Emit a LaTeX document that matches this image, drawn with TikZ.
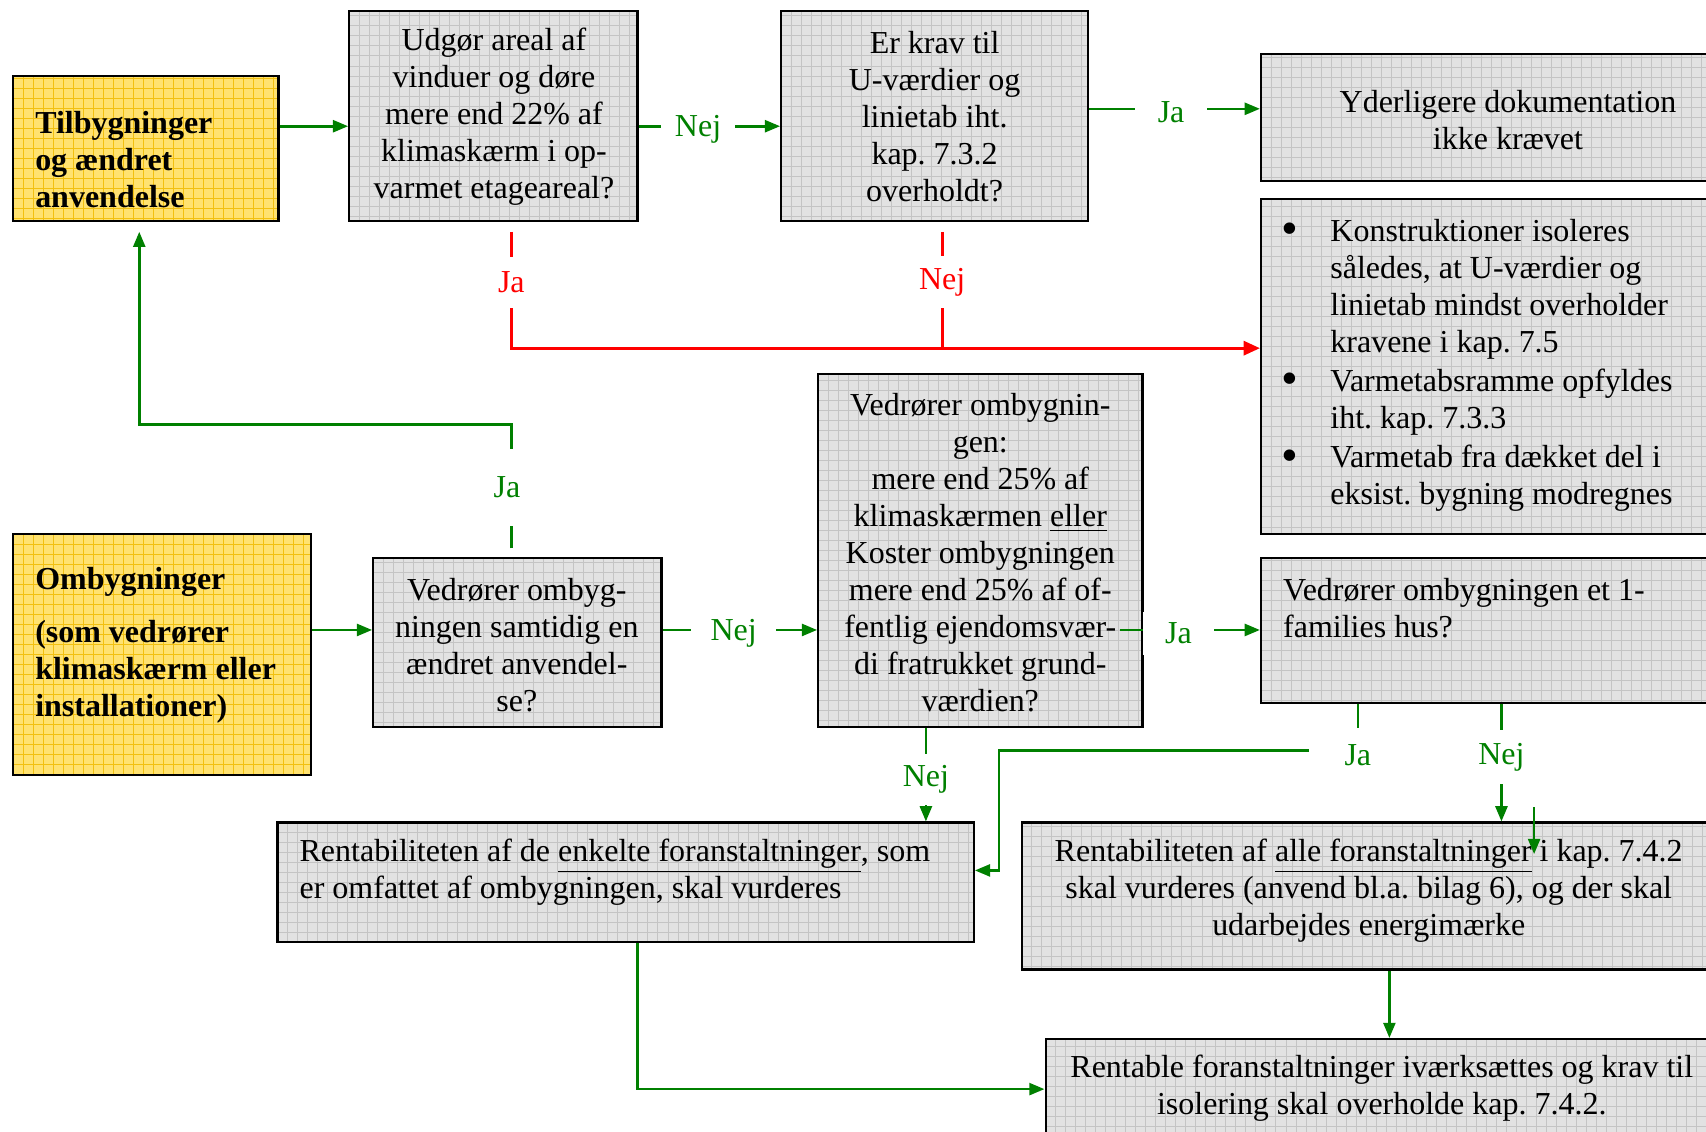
\documentclass[tikz,border=0pt]{standalone}
\usepackage{fontspec}
\setmainfont{Liberation Serif}
\usetikzlibrary{arrows.meta,calc,fit}
\definecolor{jagreen}{HTML}{008000}
\definecolor{nejred}{HTML}{FF0000}
\definecolor{boxgrey}{HTML}{E2E2E2}
\definecolor{gridgrey}{HTML}{C4C4C4}
\definecolor{boxyellow}{HTML}{FFE270}
\definecolor{gridyellow}{HTML}{F2C010}
\newcommand{\bodyfont}{\fontsize{14.7}{17}\selectfont}
\newcommand{\bigbullet}{\raisebox{-1.6pt}{\fontsize{22}{17}\selectfont\textbullet}}
\tikzset{
  >={Triangle[length=7pt,width=5.5pt]}, font=\bodyfont,
  gridbox/.style 2 args={draw=black, line width=1pt, inner sep=0pt, fill=#1,
                path picture={\draw[#2, line width=0.3pt, step=4.6pt] (path picture bounding box.south west) grid (path picture bounding box.north east);}},
  box/.style={gridbox={boxgrey}{gridgrey}},
  startbox/.style={gridbox={boxyellow}{gridyellow}},
  txt/.style={inner sep=0pt, align=center},
  ltxt/.style={inner sep=0pt, align=left, anchor=west},
  headtxt/.style={ltxt, font=\bodyfont\bfseries},
  flow/.style={->, draw=jagreen, line width=1.2pt},
  redflow/.style={-{Triangle[length=7.5pt,width=6.5pt]}, draw=nejred, line width=1.3pt},
  lbl/.style={text=jagreen, fill=white, inner xsep=6pt, inner ysep=5pt},
  redlbl/.style={lbl, text=nejred},
}
\frenchspacing

\begin{document}
\begin{tikzpicture}[x=0.5pt, y=-0.5pt]
  \clip (0,0) rectangle (1568,1040);
  % boxes
  \node[startbox, fit={(12,70) (256,203)}] (A) {};
  \node[headtxt] (At) at (32,147) {Tilbygninger\\og ændret\\anvendelse};
  \node[box, fit={(321,10) (586,203)}] (B) {};
  \node[txt] (Bt) at (454,107) {Udgør areal af\\vinduer og døre\\mere end 22\% af\\klimaskærm i op-\\varmet etageareal?};
  \node[box, fit={(718,10) (1000,203)}] (C) {};
  \node[txt] (Ct) at (859,107) {Er krav til\\U-værdier og\\linietab iht.\\kap. 7.3.2\\overholdt?};
  \node[box, fit={(1159,50) (1580,166)}] (D) {};
  \node[txt] (Dt) at (1386,110) {Yderligere dokumentation\\ikke krævet};
  \node[box, fit={(1159,183) (1580,491)}] (E) {};
  \node[inner sep=0pt, anchor=west] (Et) at (1177,336) {\begin{tabular}{@{}l@{\hspace{15pt}}l@{}}
    \bigbullet & Konstruktioner isoleres\\
               & således, at U-værdier og\\
               & linietab mindst overholder\\
               & kravene i kap. 7.5\\[1pt]
    \bigbullet & Varmetabsramme opfyldes\\
               & iht. kap. 7.3.3\\[1pt]
    \bigbullet & Varmetab fra dækket del i\\
               & eksist. bygning modregnes
  \end{tabular}};
  \node[startbox, fit={(12,491) (286,712)}] (F) {};
  \node[headtxt] (Ft) at (32,593) {Ombygninger\\[7pt](som vedrører\\klimaskærm eller\\installationer)};
  \node[box, fit={(343,513) (608,668)}] (G) {};
  \node[txt] (Gt) at (475,593) {Vedrører ombyg-\\ningen samtidig en\\ændret anvendel-\\se?};
  \node[box, fit={(752,344) (1050,668)}] (H) {};
  \node[txt] (Ht) at (901,508) {Vedrører ombygnin-\\gen:\\mere end 25\% af\\klimaskærmen \underline{eller}\\Koster ombygningen\\mere end 25\% af of-\\fentlig ejendomsvær-\\di fratrukket grund-\\værdien?};
  \node[box, fit={(1159,513) (1580,646)}] (I) {};
  \node[ltxt] (It) at (1179,559) {Vedrører ombygningen et 1-\\families hus?};
  \node[box, fit={(255,756) (895,866)}] (J) {};
  \node[ltxt] (Jt) at (275,802) {Rentabiliteten af de \underline{enkelte foranstaltninger}, som\\er omfattet af ombygningen, skal vurderes};
  \node[box, fit={(939,756) (1580,891)}] (K) {};
  \node[txt] (Kt) at (1258,819) {Rentabiliteten af \underline{alle foranstaltninger} i kap. 7.4.2\\skal vurderes (anvend bl.a. bilag 6), og der skal\\udarbejdes energimærke};
  \node[box, fit={(961,955) (1580,1060)}] (L) {};
  \node[txt] (Lt) at (1270,1000) {Rentable foranstaltninger iværksættes og krav til\\isolering skal overholde kap. 7.4.2.};
  % connectors
  \coordinate (redjoin) at (866,320);
  \coordinate (upturn) at (128,390);
  \coordinate (jaturn) at (918,690);
  \coordinate (straytop) at (1410,742);
  \coordinate (straytip) at (1410,785);
  \draw[flow] (A.east |- 0,116) -- (B.west |- 0,116);
  \draw[flow] (B.east |- 0,116) -- node[lbl, pos=0.42, inner xsep=6.2pt, yshift=-1.5pt] (nejB) {Nej} (C.west |- 0,116);
  \draw[flow] (C.east |- 0,100) -- node[lbl, pos=0.48, inner xsep=10.6pt, yshift=-1.5pt] (jaC) {Ja} (D.west |- 0,100);
  \draw[redflow, shorten <=4.5pt] (B.south -| 470,0) |- node[redlbl, pos=0.2265, inner ysep=6.8pt, yshift=-1.5pt] (jaB) {Ja} (E.west |- redjoin);
  \draw[draw=nejred, line width=1.3pt, shorten <=4.5pt] (C.south -| redjoin) -- node[redlbl, pos=0.453, inner ysep=5.5pt, yshift=-1.5pt] (nejC) {Nej} (redjoin);
  \draw[flow] (F.east |- 0,579) -- (G.west |- 0,579);
  \draw[flow] (G.east |- 0,579) -- node[lbl, pos=0.46, inner xsep=8.9pt, yshift=-1.5pt] (nejG) {Nej} (H.west |- 0,579);
  \draw[flow, shorten <=4pt, shorten >=4.5pt] (G.north -| 470,0) |- node[lbl, pos=0.262, inner ysep=13pt, xshift=-2pt] (jaG) {Ja} (upturn) -- (A.south -| upturn);
  \draw[flow] ($(H.east |- 0,579)+(-22,0)$) -- node[lbl, pos=0.42, inner xsep=10.4pt, yshift=-1.5pt] (jaH) {Ja} (I.west |- 0,579);
  \draw[flow] (H.south -| 851,0) -- node[lbl, pos=0.517, inner ysep=5.3pt, yshift=-1.5pt] (nejH) {Nej} (J.north -| 851,0);
  \draw[flow] (I.south -| 1248,0) |- (jaturn) |- (J.east |- 0,800);
  \node[lbl, inner xsep=16.4pt, inner ysep=7.5pt] (jaI) at (1248,694) {Ja};
  \draw[flow] (I.south -| 1380,0) -- node[lbl, pos=0.427, inner ysep=6pt, yshift=-1.5pt] (nejI) {Nej} (K.north -| 1380,0);
  \draw[flow] (straytop) -- (straytip);
  \draw[flow] (K.south -| 1277,0) -- (L.north -| 1277,0);
  \draw[flow] (J.south -| 586,0) |- (L.west |- 0,1001);
\end{tikzpicture}
\end{document}
